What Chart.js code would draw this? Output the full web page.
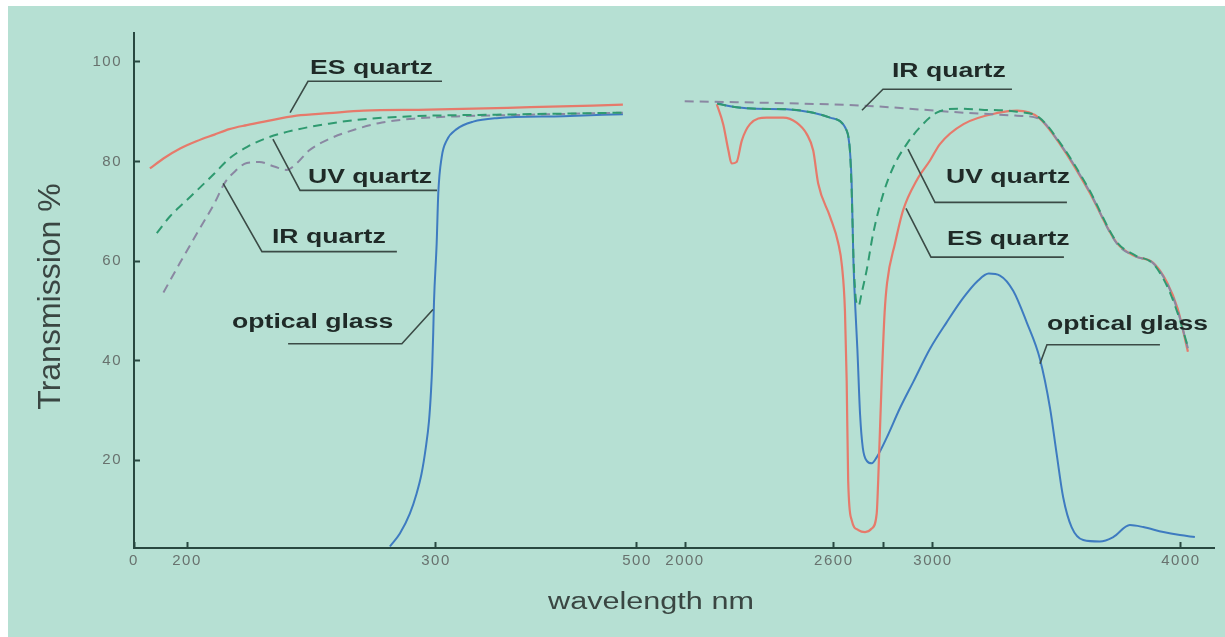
<!DOCTYPE html>
<html>
<head>
<meta charset="utf-8">
<script src="https://cdn.jsdelivr.net/npm/chart.js@4.4.1/dist/chart.umd.min.js"></script>
<style>
  html, body { margin: 0; padding: 0; background: #fff; }
  #wrap { position: absolute; left: 8px; top: 6px; width: 1217px; height: 631px; background: #b6e0d3; }
</style>
</head>
<body>
<div id="wrap"><canvas id="chart"></canvas></div>
<script>
// axis ticks
const xTicks = [0, 200, 300, 500, 2000, 2600, 2800, 3000, 4000];
const xTickLabels = ['0', '200', '300', '500', '2000', '2600', '', '3000', '4000'];
const yTicks = [20, 40, 60, 80, 100];

// the wavelength axis is broken: break values and where they sit along the axis (0..1)
const axisValues = [0, 200, 300, 500, 2000, 4000, 4133];
const axisFractions = [0, 0.0491, 0.2796, 0.4657, 0.5102, 0.9694, 1];

// ES quartz (null = gap between the two windows)
const esWl = [60, 111, 174, 204, 211, 217, 224, 231, 244, 257, 271, 297, 394, 486, 1200,
  2128, 2154, 2175, 2188, 2208, 2229, 2262, 2329, 2396, 2450, 2491, 2517, 2537, 2585, 2618, 2633, 2645, 2652, 2658,
  2672, 2699, 2726, 2753, 2773, 2779, 2793, 2805, 2815, 2847, 2880, 2934, 2988, 3028, 3123, 3267, 3339, 3426, 3512,
  3627, 3742, 3814, 3887, 3944, 3987, 4028];
const esT = [78.6, 80.6, 82.6, 84.1, 85.4, 86.5, 87.3, 88.0, 89.2, 89.7, 90.2, 90.4, 90.9, 91.4, null,
  91.5, 87.5, 82.2, 79.6, 79.9, 84.2, 87.5, 88.8, 88.8, 87.8, 85.5, 82.2, 75.6, 68.9, 63.6, 59.0, 50.0, 35.8, 15.9,
  8.0, 6.0, 5.6, 6.3, 9.3, 15.9, 35.8, 49.7, 55.7, 63.6, 70.3, 76.2, 80.2, 83.5, 87.5, 89.8, 90.2, 88.8, 83.5,
  74.2, 63.6, 61.0, 59.7, 55.7, 50.4, 41.8];

// UV quartz
const uvWl = [86, 136, 186, 204, 211, 217, 224, 233, 244, 257, 271, 291, 360, 486, 1200,
  2130, 2208, 2289, 2410, 2517, 2585, 2652, 2665, 2672, 2680, 2690, 2700, 2712, 2733, 2759, 2800, 2840, 2894, 2948,
  3015, 3100, 3195, 3339, 3426, 3512, 3627, 3742, 3814, 3887, 3944, 3987, 4028];
const uvT = [65.6, 69.0, 71.6, 74.2, 77.6, 80.6, 82.9, 84.9, 86.4, 87.6, 88.5, 89.1, 89.4, 89.8, null,
  91.6, 90.9, 90.6, 90.5, 89.8, 88.8, 86.2, 82.2, 74.0, 60.0, 52.0, 51.0, 53.5, 58.3, 65.6, 73.6, 78.9, 83.5, 86.9,
  89.8, 90.6, 90.4, 90.0, 88.9, 83.8, 74.6, 63.8, 61.2, 59.5, 55.0, 49.5, 42.8];

// IR quartz
const irWl = [111, 174, 204, 211, 215, 219, 224, 229, 235, 240, 244, 249, 257, 268, 277, 291, 327, 394, 486, 1200,
  1990, 2400, 2722, 3125, 3339, 3426, 3512, 3627, 3742, 3814, 3887, 3944, 3987, 4028];
const irT = [53.7, 59.7, 65.6, 71.6, 75.6, 77.9, 79.7, 79.9, 79.0, 78.3, 79.6, 82.2, 84.5, 86.5, 87.7, 88.6, 89.1, 89.4, 89.8, null,
  92.1, 91.7, 91.2, 89.8, 89.2, 88.6, 83.6, 74.4, 63.5, 61.0, 59.6, 55.5, 50.0, 42.5];

// optical glass
const ogWl = [281.5, 285.5, 289.5, 292.2, 294.2, 295.9, 297.2, 298.0, 298.5, 298.9, 299.2, 300.7, 302.3, 305.7, 310.6,
  320.6, 337.1, 360.4, 426.7, 486, 1200,
  2130, 2161, 2208, 2289, 2410, 2517, 2585, 2652, 2665, 2672, 2679, 2687, 2695, 2706, 2717, 2733, 2753, 2773, 2813,
  2867, 2921, 2988, 3055, 3122, 3180, 3225, 3270, 3324, 3378, 3431, 3472, 3499, 3525, 3559, 3606, 3673, 3727, 3794,
  3848, 3929, 3996, 4056];
const ogT = [2.7, 5.3, 9.3, 13.3, 17.3, 22.5, 27.9, 33.8, 39.1, 45.6, 51.7, 63.6, 73.6, 80.9, 84.2,
  86.5, 88.0, 88.7, 89.1, 89.5, null,
  91.8, 91.3, 90.9, 90.6, 90.5, 89.8, 88.8, 86.2, 82.2, 75.6, 60.3, 50.4, 42.4, 29.2, 22.5, 19.9, 19.4, 20.6, 24.5,
  30.5, 35.8, 42.4, 47.7, 52.6, 56.0, 57.5, 57.1, 54.0, 47.7, 40.4, 30.5, 21.2, 12.6, 6.6, 4.0, 3.7, 4.6, 7.0,
  6.6, 5.6, 5.0, 4.6];

// curve labels: text anchor and underline + leader polyline, in data units
const notes = [
  { text: 'ES quartz', at: [249.4, 97.5], line: [[306, 96.1], [248.6, 96.1], [241.4, 89.8]] },
  { text: 'UV quartz', at: [248.6, 75.7], line: [[301, 74.2], [245.4, 74.2], [234.5, 84.5]] },
  { text: 'IR quartz', at: [234.1, 63.6], line: [[284.3, 61.9], [230.1, 61.9], [214.5, 75.6]] },
  { text: 'optical glass', at: [218.1, 46.5], line: [[240.6, 43.4], [286.3, 43.4], [298.8, 50.3]] },
  { text: 'IR quartz', at: [2834.6, 97.0], line: [[3318.5, 94.5], [2798.3, 94.5], [2713.7, 90.3]] },
  { text: 'UV quartz', at: [3052.4, 75.7], line: [[3540.2, 71.8], [3008, 71.8], [2899.1, 82.5]] },
  { text: 'ES quartz', at: [3056.4, 63.2], line: [[3528.1, 60.8], [2991.9, 60.8], [2891.1, 70.6]] },
  { text: 'optical glass', at: [3459.6, 46.1], line: [[3915.2, 43.2], [3459.6, 43.2], [3431.4, 39.4]] }
];

// linear scale with piecewise mapping between the break points
class BrokenAxis extends Chart.LinearScale {
  valueToFraction(v) {
    const n = axisValues.length;
    for (let i = 1; i < n; i++) {
      if (v <= axisValues[i] || i === n - 1) {
        const a = axisValues[i - 1], b = axisValues[i];
        return axisFractions[i - 1] + (v - a) / (b - a) * (axisFractions[i] - axisFractions[i - 1]);
      }
    }
    return 0;
  }
  getPixelForValue(v) {
    if (v === null || isNaN(v)) return NaN;
    return this.getPixelForDecimal(this.valueToFraction(v));
  }
  getValueForPixel(p) {
    const f = this.getDecimalForPixel(p);
    for (let i = 1; i < axisFractions.length; i++) {
      if (f <= axisFractions[i] || i === axisFractions.length - 1) {
        const fa = axisFractions[i - 1], fb = axisFractions[i];
        return axisValues[i - 1] + (f - fa) / (fb - fa) * (axisValues[i] - axisValues[i - 1]);
      }
    }
    return 0;
  }
}
BrokenAxis.id = 'broken';
BrokenAxis.defaults = Chart.LinearScale.defaults;
Chart.register(BrokenAxis);

const series = (wl, t) => wl.map((w, i) => ({ x: w, y: t[i] }));

function stretchedText(ctx, text, x, y, font, sx, align) {
  ctx.save();
  ctx.font = font;
  ctx.textAlign = align;
  ctx.translate(x, y);
  ctx.scale(sx, 1);
  ctx.fillText(text, 0, 0);
  ctx.restore();
}

const decorations = {
  id: 'decorations',
  beforeDraw(chart) {
    chart.ctx.letterSpacing = '1.5px';
  },
  afterDatasetsDraw(chart) {
    const ctx = chart.ctx;
    const xs = chart.scales.x, ys = chart.scales.y;
    ctx.save();
    ctx.letterSpacing = '0px';
    ctx.strokeStyle = '#3b4b46';
    ctx.lineWidth = 1.6;
    ctx.fillStyle = '#1f2a27';
    ctx.textBaseline = 'alphabetic';
    notes.forEach(n => {
      ctx.beginPath();
      n.line.forEach((p, i) => {
        const px = xs.getPixelForValue(p[0]), py = ys.getPixelForValue(p[1]);
        if (i === 0) ctx.moveTo(px, py); else ctx.lineTo(px, py);
      });
      ctx.stroke();
      stretchedText(ctx, n.text, xs.getPixelForValue(n.at[0]), ys.getPixelForValue(n.at[1]),
        'bold 20px "Liberation Sans", Arial, sans-serif', 1.33, 'left');
    });
    ctx.restore();
  },
  afterDraw(chart) {
    const ctx = chart.ctx;
    const area = chart.chartArea;
    ctx.save();
    ctx.letterSpacing = '0px';
    ctx.fillStyle = '#3a4642';
    ctx.textBaseline = 'alphabetic';
    stretchedText(ctx, 'wavelength nm', (area.left + area.right) / 2 - 23, area.bottom + 61,
      '23px "Liberation Sans", Arial, sans-serif', 1.33, 'center');
    ctx.translate(area.left - 83, (area.top + area.bottom) / 2 + 6);
    ctx.rotate(-Math.PI / 2);
    ctx.font = '32px "Liberation Sans", Arial, sans-serif';
    ctx.textAlign = 'center';
    ctx.textBaseline = 'middle';
    ctx.fillText('Transmission %', 0, 0);
    ctx.restore();
  }
};

const axisColor = '#284840';
const tickFont = { family: '"Liberation Sans", Arial, sans-serif', size: 15 };

new Chart(document.getElementById('chart'), {
  type: 'line',
  data: {
    datasets: [
      { label: 'UV quartz', data: series(uvWl, uvT), borderColor: '#2f9a70', borderDash: [9, 6], borderWidth: 2 },
      { label: 'IR quartz', data: series(irWl, irT), borderColor: '#8a87a2', borderDash: [9, 6], borderWidth: 2 },
      { label: 'ES quartz', data: series(esWl, esT), borderColor: '#e67a6b', borderWidth: 2.2 },
      { label: 'optical glass', data: series(ogWl, ogT), borderColor: '#3e7bc0', borderWidth: 2 }
    ]
  },
  options: {
    responsive: true,
    maintainAspectRatio: false,
    animation: false,
    spanGaps: false,
    layout: { padding: { top: 22, right: 11, bottom: 0, left: 0 } },
    elements: {
      point: { radius: 0 },
      line: { cubicInterpolationMode: 'monotone', fill: false }
    },
    plugins: { legend: { display: false }, tooltip: { enabled: false } },
    scales: {
      x: {
        type: 'broken',
        min: 0,
        max: 4133,
        afterBuildTicks: axis => { axis.ticks = xTicks.map(v => ({ value: v })); },
        afterFit: axis => { axis.height = 89; },
        grid: { drawOnChartArea: false, drawTicks: true, tickLength: -6, tickWidth: 2, tickColor: axisColor },
        border: { display: true, color: axisColor, width: 2 },
        ticks: {
          autoSkip: false,
          maxRotation: 0,
          padding: 10,
          color: '#68726e',
          font: tickFont,
          callback: (v, i) => xTickLabels[i]
        }
      },
      y: {
        type: 'linear',
        min: 2.4,
        max: 105.8,
        bounds: 'data',
        afterBuildTicks: axis => { axis.ticks = yTicks.map(v => ({ value: v })); },
        afterFit: axis => { axis.width = 126; },
        grid: { drawOnChartArea: false, drawTicks: true, tickLength: -6, tickWidth: 2, tickColor: axisColor },
        border: { display: true, color: axisColor, width: 2 },
        ticks: { padding: 18, color: '#68726e', font: tickFont, callback: v => String(v) }
      }
    }
  },
  plugins: [decorations]
});
</script>
</body>
</html>
